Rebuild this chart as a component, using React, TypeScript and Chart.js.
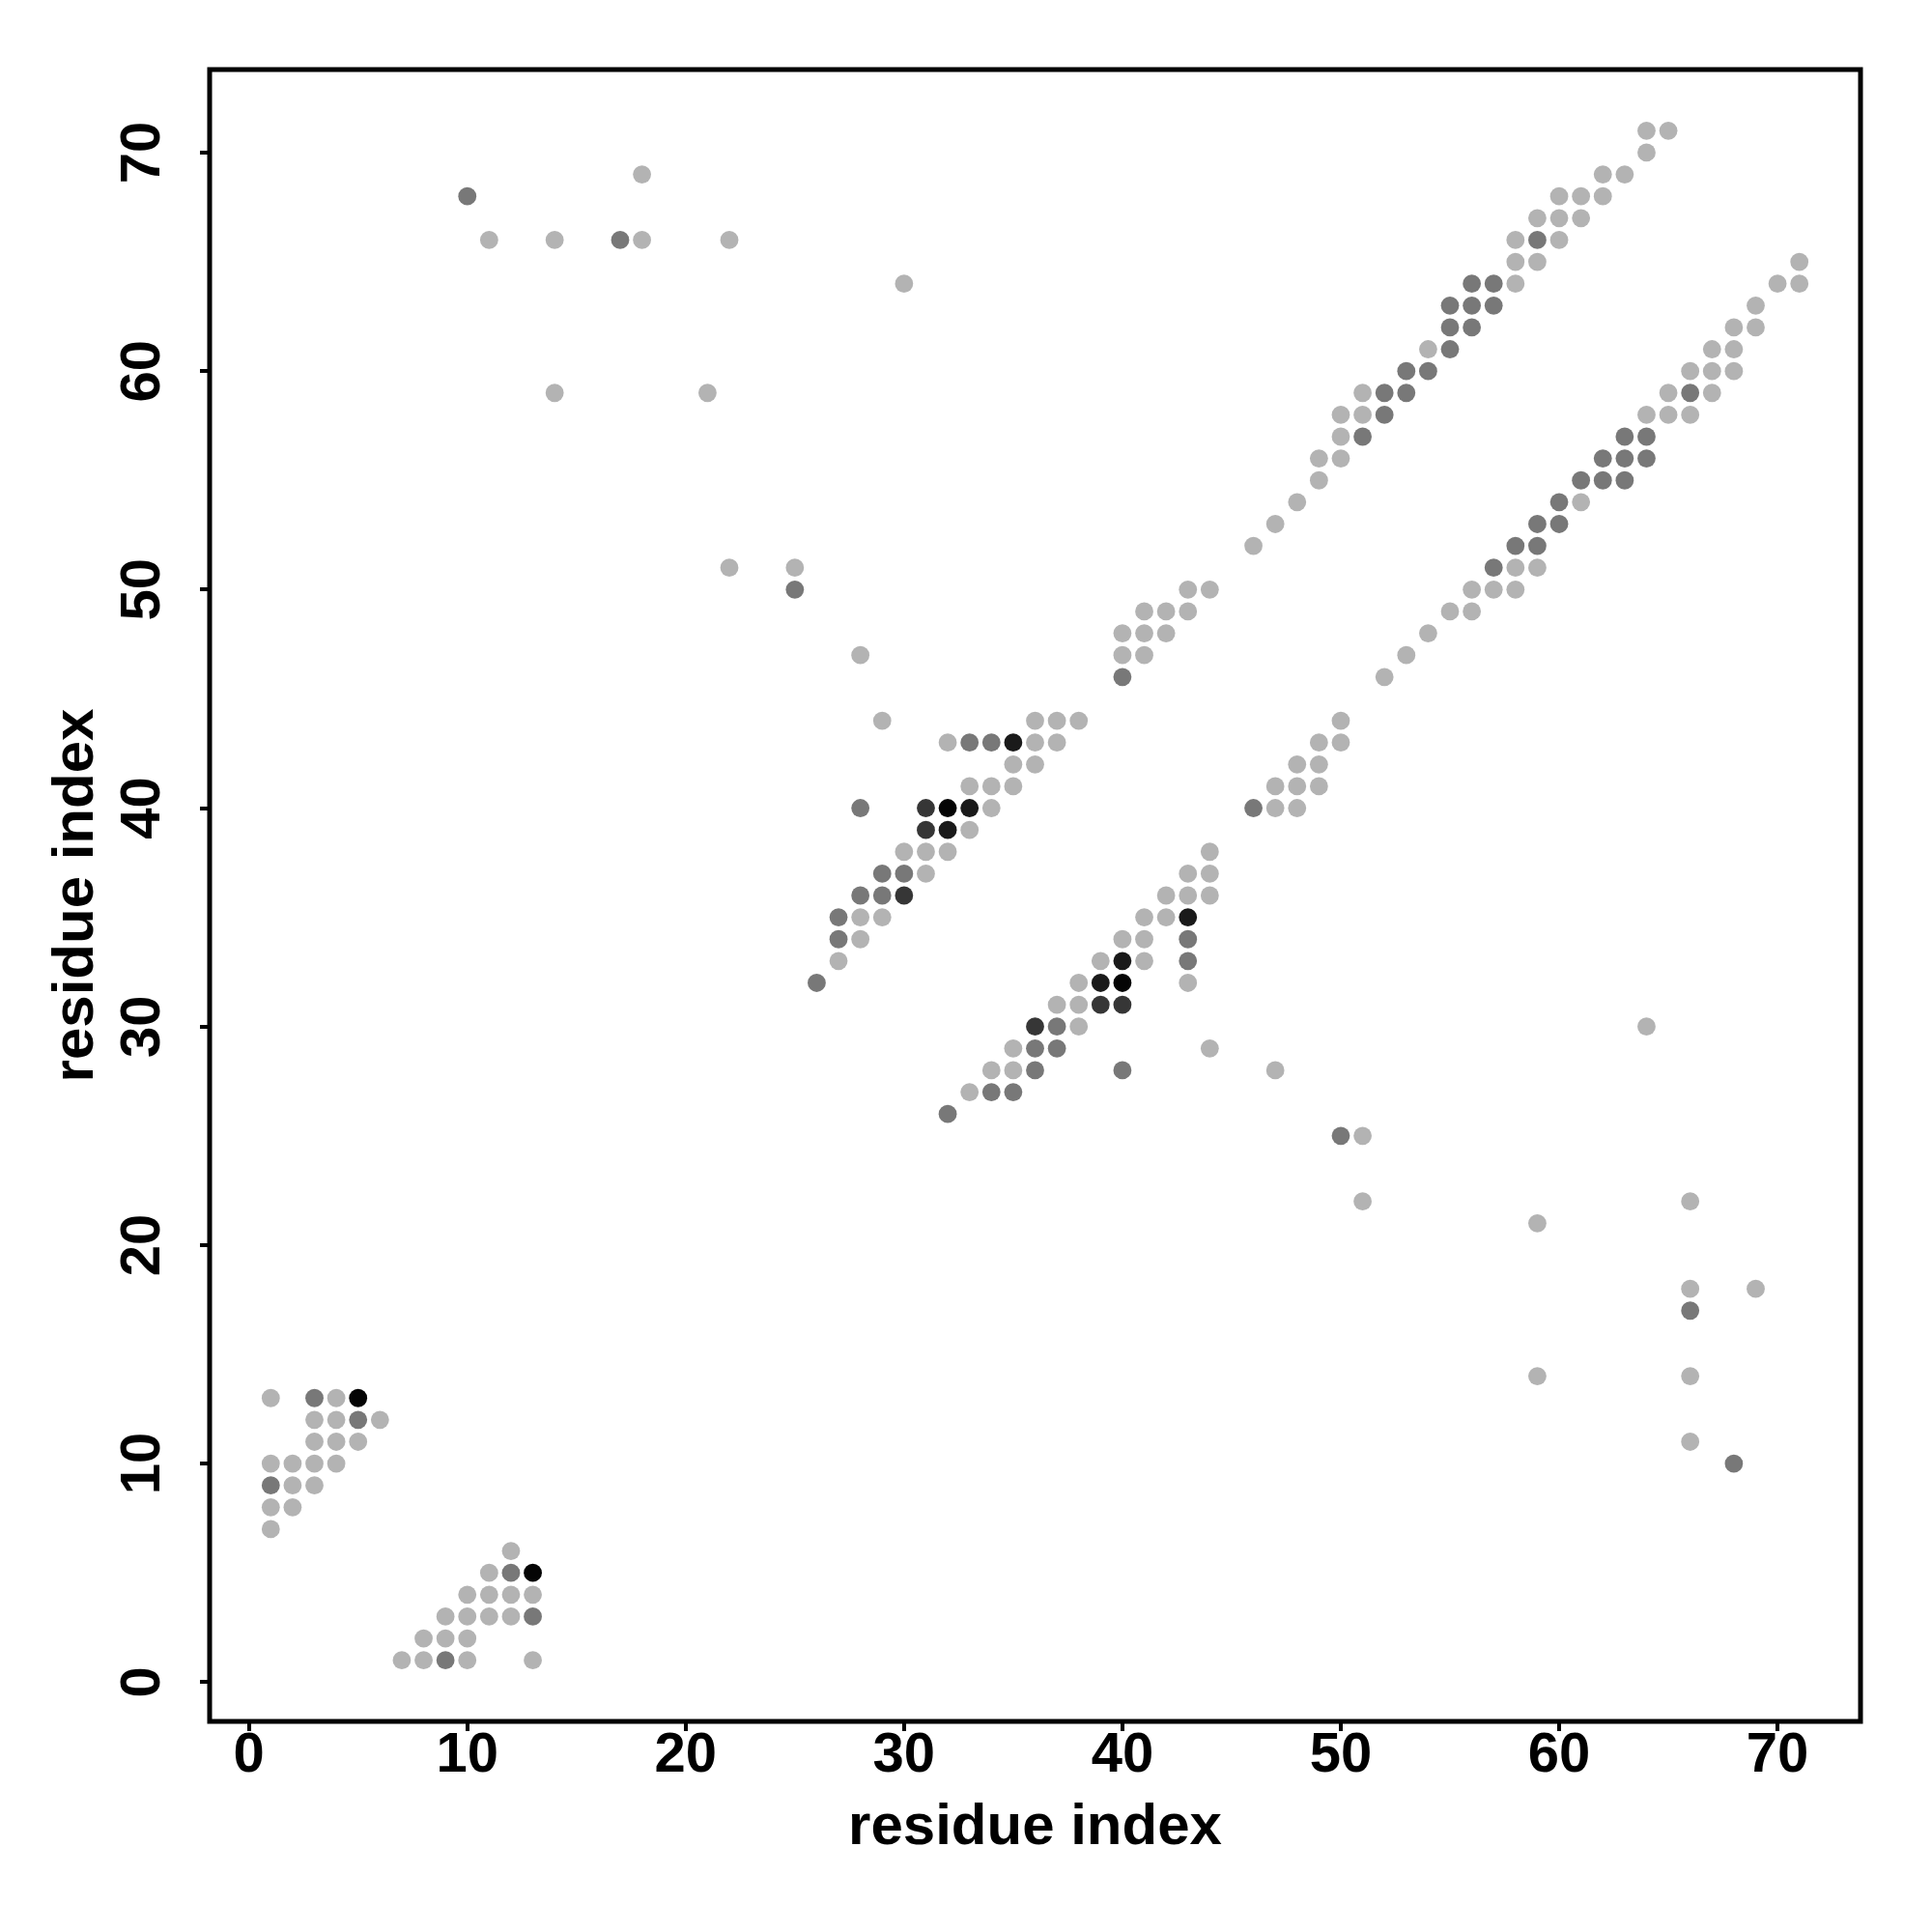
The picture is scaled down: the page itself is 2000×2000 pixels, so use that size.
import { useEffect, useRef } from 'react';
import { Chart, registerables } from 'chart.js';

Chart.register(...registerables);

// Axis tick labels
const tickValues = [0, 10, 20, 30, 40, 50, 60, 70];
const axisTitle = 'residue index';

// Contacts, grouped by grey level: [residue i, residue j]
const contactsLight: [number, number][] = [
  [1, 13], [4, 13], [3, 12], [4, 12], [6, 12], [3, 11], [4, 11], [5, 11],
  [1, 10], [2, 10], [3, 10], [4, 10], [2, 9], [3, 9], [1, 8], [2, 8], [1, 7],
  [12, 6], [11, 5], [10, 4], [11, 4], [12, 4], [13, 4], [9, 3], [10, 3], [11, 3], [12, 3],
  [8, 2], [9, 2], [10, 2], [7, 1], [8, 1], [10, 1], [13, 1],
  [11, 66], [14, 66], [18, 66], [18, 69], [22, 66], [14, 59], [21, 59], [30, 64],
  [22, 51], [25, 51], [28, 47], [29, 44],
  [36, 44], [37, 44], [38, 44], [32, 43], [36, 43], [37, 43], [35, 42], [36, 42],
  [33, 41], [34, 41], [35, 41], [34, 40], [33, 39], [30, 38], [31, 38], [32, 38],
  [31, 37], [28, 35], [29, 35], [28, 34], [27, 33],
  [44, 38], [43, 37], [44, 37], [42, 36], [43, 36], [44, 36], [41, 35], [42, 35],
  [40, 34], [41, 34], [39, 33], [41, 33], [38, 32], [43, 32], [37, 31], [38, 31],
  [38, 30], [35, 29], [44, 29], [34, 28], [35, 28], [47, 28], [33, 27],
  [43, 50], [44, 50], [41, 49], [42, 49], [43, 49], [40, 48], [41, 48], [42, 48], [40, 47], [41, 47],
  [50, 44], [49, 43], [50, 43], [48, 42], [49, 42], [47, 41], [48, 41], [49, 41], [47, 40], [48, 40],
  [46, 52], [47, 53], [48, 54], [49, 55], [49, 56], [50, 56], [50, 57], [50, 58], [51, 58],
  [51, 59], [54, 61], [58, 64], [58, 65], [59, 65], [58, 66], [60, 66], [59, 67], [60, 67],
  [61, 67], [60, 68], [61, 68], [62, 68], [62, 69], [63, 69], [64, 70], [64, 71], [65, 71],
  [52, 46], [53, 47], [54, 48], [55, 49], [56, 49], [56, 50], [57, 50], [58, 50], [58, 51],
  [59, 51], [61, 54], [64, 58], [65, 58], [66, 58], [65, 59], [67, 59], [66, 60], [67, 60],
  [68, 60], [67, 61], [68, 61], [68, 62], [69, 62], [69, 63], [70, 64], [71, 64], [71, 65],
  [64, 30], [51, 25], [51, 22], [59, 21], [66, 22], [66, 18], [69, 18], [59, 14], [66, 14], [66, 11],
];

const contactsMedium: [number, number][] = [
  [3, 13], [5, 12], [1, 9], [12, 5], [13, 3], [9, 1],
  [10, 68], [17, 66], [25, 50],
  [33, 43], [34, 43], [28, 40], [29, 37], [30, 37], [28, 36], [29, 36], [27, 35], [27, 34], [26, 32],
  [43, 34], [43, 33], [40, 28], [37, 29], [37, 30], [36, 28], [36, 29], [35, 27], [34, 27], [32, 26],
  [40, 46], [46, 40],
  [51, 57], [52, 58], [52, 59], [53, 59], [53, 60], [54, 60], [55, 61], [55, 62], [56, 62],
  [55, 63], [56, 63], [57, 63], [56, 64], [57, 64], [59, 66],
  [57, 51], [58, 52], [59, 52], [59, 53], [60, 53], [60, 54], [61, 55], [62, 55], [62, 56],
  [63, 55], [63, 56], [63, 57], [64, 56], [64, 57], [66, 59],
  [50, 25], [66, 17], [68, 10],
];

const contactsDark: [number, number][] = [
  [31, 40], [31, 39], [30, 36], [40, 31], [39, 31], [36, 30],
];

const contactsDarker: [number, number][] = [
  [33, 40], [32, 39], [35, 43], [40, 33], [39, 32], [43, 35],
];

const contactsBlack: [number, number][] = [
  [5, 13], [13, 5], [32, 40], [40, 32],
];

const groups = [
  { name: 'light', points: contactsLight, color: '#b3b3b3' },
  { name: 'medium', points: contactsMedium, color: '#787878' },
  { name: 'dark', points: contactsDark, color: '#363636' },
  { name: 'darker', points: contactsDarker, color: '#1a1a1a' },
  { name: 'black', points: contactsBlack, color: '#050505' },
];

const FONT = '"Liberation Sans", Arial, Helvetica, sans-serif';

const boxPlugin = {
  id: 'plotBox',
  afterDatasetsDraw(chart: any) {
    const { ctx, chartArea } = chart;
    ctx.save();
    ctx.strokeStyle = '#000';
    ctx.lineWidth = 5;
    ctx.strokeRect(chartArea.left, chartArea.top, chartArea.right - chartArea.left, chartArea.bottom - chartArea.top);
    ctx.restore();
  },
};

export default function App() {
  const ref = useRef<HTMLCanvasElement>(null);

  useEffect(() => {
    if (!ref.current) return;
    const setTicks = (scale: any) => {
      scale.ticks = tickValues.map((v) => ({ value: v }));
    };
    const chart = new Chart(ref.current, {
      type: 'scatter',
      data: {
        datasets: groups.map((g) => ({
          label: g.name,
          data: g.points.map(([x, y]) => ({ x, y })),
          backgroundColor: g.color,
          borderWidth: 0,
          pointRadius: 9.4,
          pointHoverRadius: 9.4,
          pointBorderWidth: 0,
        })),
      },
      options: {
        animation: false,
        responsive: false,
        devicePixelRatio: 1,
        layout: { padding: { top: 72, right: 74, left: 0, bottom: 0 } },
        plugins: { legend: { display: false }, tooltip: { enabled: false } },
        scales: {
          x: {
            type: 'linear',
            min: -1.8,
            max: 73.8,
            afterBuildTicks: setTicks,
            afterFit: (s: any) => { s.height = 218; },
            ticks: {
              autoSkip: false,
              maxRotation: 0,
              minRotation: 0,
              padding: 0,
              color: '#000',
              font: { family: FONT, size: 58, weight: 'bold', lineHeight: 0.9 },
            },
            grid: {
              display: true,
              drawOnChartArea: false,
              drawTicks: true,
              tickLength: 10,
              tickWidth: 4,
              tickColor: '#000',
              lineWidth: 4,
              color: '#000',
            },
            border: { display: false },
            title: {
              display: true,
              text: axisTitle,
              color: '#000',
              font: { family: FONT, size: 60, weight: 'bold', lineHeight: 1 },
              padding: { top: 0, bottom: 78 },
            },
          },
          y: {
            type: 'linear',
            min: -1.8,
            max: 73.8,
            afterBuildTicks: setTicks,
            afterFit: (s: any) => { s.width = 217; },
            ticks: {
              autoSkip: false,
              minRotation: 90,
              maxRotation: 90,
              crossAlign: 'center',
              padding: 26,
              color: '#000',
              font: { family: FONT, size: 58, weight: 'bold', lineHeight: 0.9 },
            },
            grid: {
              display: true,
              drawOnChartArea: false,
              drawTicks: true,
              tickLength: 10,
              tickWidth: 4,
              tickColor: '#000',
              lineWidth: 4,
              color: '#000',
            },
            border: { display: false },
            title: {
              display: true,
              text: axisTitle,
              color: '#000',
              font: { family: FONT, size: 60, weight: 'bold', lineHeight: 1 },
              padding: { top: 49, bottom: 0 },
            },
          },
        },
      } as any,
      plugins: [boxPlugin],
    });
    return () => chart.destroy();
  }, []);

  return (
    <div style={{ position: 'absolute', left: 0, top: 0, width: 2000, height: 2000, background: '#fff' }}>
      <canvas ref={ref} width={2000} height={2000} style={{ display: 'block', width: 2000, height: 2000 }} />
    </div>
  );
}
